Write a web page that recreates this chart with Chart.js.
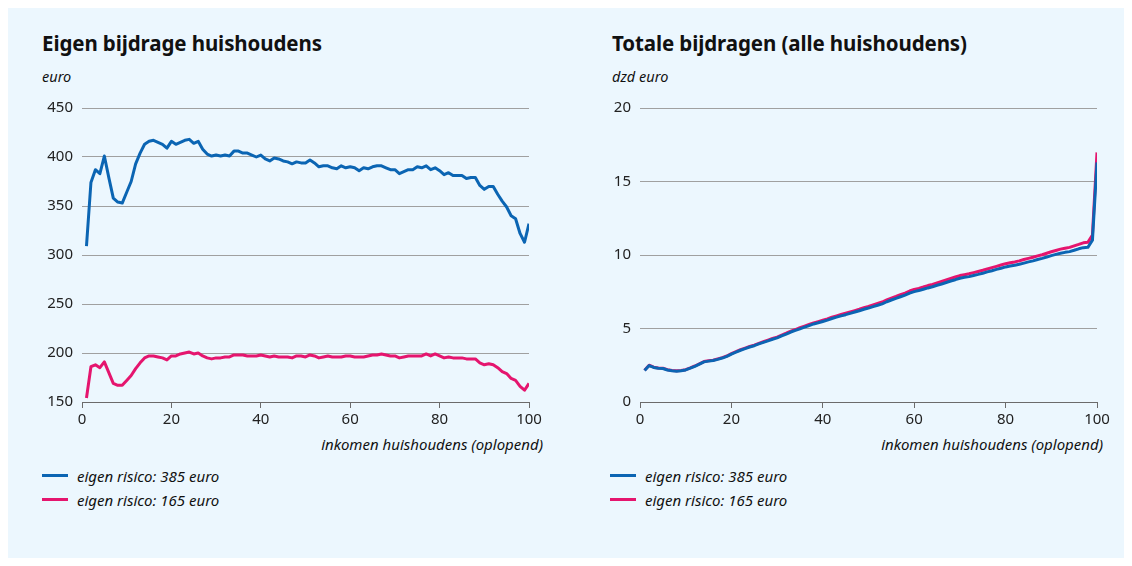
<!DOCTYPE html>
<html>
<head>
<meta charset="utf-8">
<script src="https://cdn.jsdelivr.net/npm/chart.js@4"></script>
<style>
  body { margin: 0; background: #ffffff; font-family: "Noto Sans", sans-serif; color: #111; }
  #panel { position: absolute; left: 8px; top: 8px; width: 1116px; height: 550px; background: #ecf7fe; }
  .title { position: absolute; top: 29px; font-size: 20.5px; font-weight: bold; letter-spacing: -0.1px; }
  .unit { position: absolute; top: 66px; font-size: 14.5px; font-style: italic; }
  .xtitle { position: absolute; top: 434px; font-size: 15px; font-style: italic; text-align: right; width: 300px; }
  .legend { position: absolute; font-size: 15px; font-style: italic; }
  .legend div { position: relative; height: 24px; line-height: 24px; padding-left: 35px; }
  .legend span { position: absolute; left: 0; top: 10px; width: 26px; height: 3px; }
  canvas { position: absolute; }
</style>
</head>
<body>
<div id="panel"></div>

<div class="title" style="left:42px">Eigen bijdrage huishoudens</div>
<div class="unit" style="left:42px">euro</div>
<div class="xtitle" style="left:243px">inkomen huishoudens (oplopend)</div>
<div class="legend" style="left:42px; top:464px">
  <div><span style="background:#0b65b3"></span>eigen risico: 385 euro</div>
  <div><span style="background:#e5156e"></span>eigen risico: 165 euro</div>
</div>
<canvas id="chartLeft" width="530" height="345" style="left:30px; top:90px"></canvas>

<div class="title" style="left:612px">Totale bijdragen (alle huishoudens)</div>
<div class="unit" style="left:612px">dzd euro</div>
<div class="xtitle" style="left:803px">inkomen huishoudens (oplopend)</div>
<div class="legend" style="left:610px; top:464px">
  <div><span style="background:#0b65b3"></span>eigen risico: 385 euro</div>
  <div><span style="background:#e5156e"></span>eigen risico: 165 euro</div>
</div>
<canvas id="chartRight" width="530" height="345" style="left:588px; top:90px"></canvas>

<script>
// inkomenspercentielen (oplopend)
const percentielen = [
    1, 2, 3, 4, 5, 6, 7, 8, 9, 10, 11, 12, 13, 14, 15, 16, 17, 18, 19, 20,
    21, 22, 23, 24, 25, 26, 27, 28, 29, 30, 31, 32, 33, 34, 35, 36, 37, 38, 39, 40,
    41, 42, 43, 44, 45, 46, 47, 48, 49, 50, 51, 52, 53, 54, 55, 56, 57, 58, 59, 60,
    61, 62, 63, 64, 65, 66, 67, 68, 69, 70, 71, 72, 73, 74, 75, 76, 77, 78, 79, 80,
    81, 82, 83, 84, 85, 86, 87, 88, 89, 90, 91, 92, 93, 94, 95, 96, 97, 98, 99, 100
];

// Eigen bijdrage per huishouden (euro)
const eigenBijdrage385 = [
    309, 374, 387, 383, 401, 379, 358, 354, 353, 364, 375, 393, 404, 413, 416, 417, 415, 413, 409, 416,
    413, 415, 417, 418, 414, 416, 408, 403, 401, 402, 401, 402, 401, 406, 406, 404, 404, 402, 400, 402,
    398, 396, 399, 398, 396, 395, 393, 395, 394, 394, 397, 394, 390, 391, 391, 389, 388, 391, 389, 390,
    389, 386, 389, 388, 390, 391, 391, 389, 387, 387, 383, 385, 387, 387, 390, 389, 391, 387, 389, 386,
    382, 384, 381, 381, 381, 378, 379, 379, 371, 367, 370, 370, 362, 355, 349, 340, 337, 322, 313, 332
];
const eigenBijdrage165 = [
    154, 186, 188, 185, 191, 180, 169, 167, 167, 172, 177, 184, 190, 195, 197, 197, 196, 195, 193, 197,
    197, 199, 200, 201, 199, 200, 197, 195, 194, 195, 195, 196, 196, 198, 198, 198, 197, 197, 197, 198,
    197, 196, 197, 196, 196, 196, 195, 197, 197, 196, 198, 197, 195, 196, 197, 196, 196, 196, 197, 197,
    196, 196, 196, 197, 198, 198, 199, 198, 197, 197, 195, 196, 197, 197, 197, 197, 199, 197, 199, 197,
    195, 196, 195, 195, 195, 194, 194, 194, 190, 188, 189, 188, 185, 181, 179, 174, 172, 166, 162, 169
];

// Totale bijdragen alle huishoudens (dzd euro)
const totaal385 = [
    2.14, 2.48, 2.35, 2.30, 2.28, 2.18, 2.12, 2.10, 2.12, 2.18, 2.30, 2.43, 2.58, 2.73, 2.78, 2.82, 2.90, 2.99, 3.10, 3.26,
    3.39, 3.52, 3.63, 3.74, 3.83, 3.95, 4.06, 4.16, 4.27, 4.36, 4.50, 4.62, 4.76, 4.87, 4.98, 5.09, 5.20, 5.31, 5.39, 5.48,
    5.57, 5.68, 5.77, 5.86, 5.94, 6.03, 6.12, 6.21, 6.31, 6.39, 6.49, 6.58, 6.68, 6.82, 6.94, 7.05, 7.16, 7.27, 7.41, 7.51,
    7.58, 7.67, 7.76, 7.84, 7.94, 8.03, 8.13, 8.23, 8.32, 8.42, 8.48, 8.53, 8.61, 8.68, 8.76, 8.85, 8.93, 9.02, 9.10, 9.19,
    9.25, 9.30, 9.37, 9.45, 9.53, 9.60, 9.69, 9.77, 9.86, 9.96, 10.04, 10.12, 10.18, 10.23, 10.32, 10.42, 10.50, 10.52, 11.00, 16.30
];
const totaal165 = [
    2.16, 2.50, 2.37, 2.32, 2.30, 2.20, 2.14, 2.12, 2.14, 2.20, 2.32, 2.45, 2.60, 2.75, 2.80, 2.84, 2.93, 3.02, 3.13, 3.29,
    3.42, 3.56, 3.67, 3.78, 3.87, 3.99, 4.10, 4.21, 4.32, 4.41, 4.55, 4.68, 4.82, 4.93, 5.05, 5.16, 5.27, 5.38, 5.47, 5.56,
    5.65, 5.77, 5.86, 5.95, 6.04, 6.13, 6.22, 6.31, 6.42, 6.50, 6.60, 6.70, 6.80, 6.95, 7.07, 7.18, 7.30, 7.41, 7.55, 7.66,
    7.73, 7.82, 7.92, 8.00, 8.10, 8.20, 8.30, 8.40, 8.50, 8.60, 8.66, 8.72, 8.80, 8.88, 8.96, 9.05, 9.14, 9.23, 9.32, 9.41,
    9.47, 9.53, 9.60, 9.69, 9.77, 9.85, 9.94, 10.02, 10.12, 10.22, 10.31, 10.40, 10.46, 10.52, 10.62, 10.72, 10.83, 10.86, 11.35, 16.98
];

const blauw = "#0b65b3";
const roze = "#e5156e";

function makeChart(id, serie385, serie165, yMin, yMax, yStep, padRight) {
    const ctx = document.getElementById(id).getContext("2d");
    return new Chart(ctx, {
        type: "line",
        data: {
            labels: percentielen,
            datasets: [
                { label: "eigen risico: 385 euro", data: serie385, borderColor: blauw, borderWidth: 3 },
                { label: "eigen risico: 165 euro", data: serie165, borderColor: roze, borderWidth: 3 }
            ]
        },
        options: {
            responsive: false,
            animation: false,
            events: [],
            layout: { padding: { left: 0, top: 16, right: padRight, bottom: 3 } },
            elements: {
                point: { radius: 0 },
                line: { tension: 0, borderJoinStyle: "round", borderCapStyle: "butt" }
            },
            plugins: { legend: { display: false }, tooltip: { enabled: false } },
            scales: {
                x: {
                    type: "linear",
                    min: 0, max: 100,
                    afterFit: s => { s.height = 30; },
                    ticks: { stepSize: 20, color: "#222", padding: 3, maxRotation: 0,
                             font: { family: "Noto Sans", size: 15 } },
                    grid: { drawOnChartArea: false, drawTicks: true, tickLength: 6, color: "#6b6b6b", tickWidth: 1 },
                    border: { display: true, color: "#6b6b6b", width: 1 }
                },
                y: {
                    min: yMin, max: yMax,
                    afterFit: s => { s.width = 52; },
                    ticks: { stepSize: yStep, color: "#222", padding: 9,
                             font: { family: "Noto Sans", size: 15 } },
                    grid: { color: "#a0a0a0", drawTicks: false, lineWidth: 1 },
                    border: { display: false }
                }
            }
        }
    });
}

makeChart("chartLeft", eigenBijdrage385, eigenBijdrage165, 150, 450, 50, 31);
makeChart("chartRight", totaal385, totaal165, 0, 20, 5, 21);
</script>
</body>
</html>
